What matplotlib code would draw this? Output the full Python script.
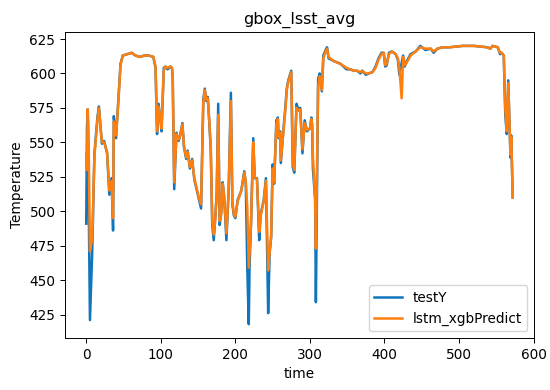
import matplotlib
matplotlib.use("Agg")
import matplotlib.pyplot as plt

# readings taken off the reference chart (time step, temperature)
test_t = [0, 1, 2, 5, 8, 11, 15, 17, 21, 24, 28, 31, 34, 36, 37, 40, 42, 46, 49, 55,
          61, 66, 72, 78, 84, 90, 93, 95, 97, 100, 101, 104, 106, 109, 113, 115, 116, 118, 121, 124,
          126, 129, 131, 134, 136, 139, 142, 145, 148, 151, 154, 157, 159, 161, 163, 165, 167, 169, 171, 173,
          175, 177, 179, 181, 183, 185, 188, 191, 194, 196, 198, 200, 203, 208, 212, 214, 216, 218, 219, 221,
          224, 226, 229, 232, 234, 238, 241, 244, 246, 248, 250, 252, 255, 257, 258, 260, 261, 264, 267, 269,
          271, 275, 277, 279, 282, 285, 287, 290, 293, 296, 300, 302, 303, 304, 307, 308, 311, 313, 316, 318,
          321, 323, 325, 332, 341, 349, 354, 359, 363, 368, 370, 375, 379, 384, 388, 392, 396, 399, 401, 403,
          406, 410, 415, 418, 420, 422, 425, 427, 430, 435, 442, 448, 455, 462, 466, 471, 478, 487, 505, 520,
          538, 542, 545, 552, 555, 557, 560, 562, 564, 566, 568, 569, 570, 572]
test_y = [491, 560, 574, 421, 470, 542, 568, 576, 549, 551, 542, 512, 524, 486, 569, 553, 571, 607, 613, 614,
          615, 613, 612, 613, 613, 612, 604, 556, 578, 564, 558, 604, 605, 603, 605, 604, 596, 516, 557, 551,
          555, 564, 547, 538, 544, 531, 538, 523, 516, 509, 502, 581, 589, 580, 583, 565, 545, 490, 479, 495,
          513, 578, 490, 499, 521, 510, 479, 515, 586, 505, 497, 495, 508, 515, 529, 520, 459, 418, 459, 491,
          553, 524, 524, 479, 498, 508, 524, 426, 470, 481, 534, 520, 566, 568, 553, 558, 535, 556, 575, 589,
          595, 602, 532, 528, 578, 573, 575, 542, 566, 558, 560, 568, 562, 531, 509, 434, 596, 600, 587, 613,
          617, 619, 611, 609, 607, 603, 603, 602, 602, 600, 602, 599, 600, 601, 605, 611, 615, 615, 605, 606,
          615, 616, 614, 610, 599, 605, 613, 605, 609, 614, 616, 620, 617, 618, 615, 618, 619, 619, 620, 620,
          619, 618, 620, 619, 614, 615, 613, 570, 556, 595, 556, 539, 555, 510]

pred_t = [0, 1, 2, 3, 5, 8, 11, 15, 17, 21, 24, 28, 31, 34, 36, 37, 40, 42, 46, 49,
          55, 61, 66, 72, 78, 84, 90, 93, 95, 97, 100, 101, 104, 106, 109, 113, 115, 116, 118, 121,
          124, 126, 129, 131, 134, 136, 139, 142, 145, 148, 151, 154, 157, 159, 161, 163, 165, 167, 169, 171,
          173, 175, 177, 179, 181, 183, 185, 188, 191, 194, 196, 198, 200, 203, 208, 212, 214, 216, 218, 219,
          221, 224, 226, 229, 232, 234, 238, 241, 244, 246, 248, 250, 252, 255, 257, 258, 260, 261, 264, 267,
          269, 271, 275, 277, 279, 282, 285, 287, 290, 293, 296, 300, 302, 303, 304, 307, 308, 311, 313, 316,
          318, 321, 323, 325, 332, 341, 349, 354, 359, 363, 368, 370, 375, 379, 384, 388, 392, 396, 399, 401,
          403, 406, 410, 415, 418, 420, 423, 425, 427, 430, 435, 442, 448, 455, 462, 466, 471, 478, 487, 505,
          520, 538, 542, 545, 552, 555, 557, 560, 562, 564, 566, 568, 569, 570, 572]
pred_y = [542, 530, 574, 560, 471, 480, 540, 566, 575, 550, 550, 543, 515, 522, 495, 565, 555, 570, 606, 613,
          614, 615, 613, 612, 613, 613, 612, 605, 558, 576, 565, 560, 602, 605, 604, 605, 604, 598, 521, 556,
          552, 555, 563, 548, 539, 543, 532, 537, 524, 517, 510, 505, 579, 588, 581, 582, 566, 547, 493, 483,
          494, 512, 570, 493, 498, 520, 511, 484, 514, 580, 507, 498, 496, 507, 515, 528, 521, 503, 459, 470,
          491, 550, 525, 523, 485, 497, 507, 522, 457, 470, 482, 531, 521, 563, 567, 554, 557, 537, 555, 573,
          588, 594, 601, 535, 530, 575, 573, 574, 545, 564, 559, 560, 567, 562, 540, 509, 473, 590, 598, 588,
          611, 616, 618, 612, 609, 607, 604, 603, 602, 602, 601, 602, 600, 600, 601, 604, 610, 614, 615, 606,
          607, 614, 616, 614, 611, 604, 582, 612, 606, 608, 613, 616, 619, 618, 618, 616, 618, 619, 619, 620,
          620, 619, 618, 620, 619, 615, 615, 613, 575, 558, 593, 558, 541, 554, 510]

fig = plt.figure(figsize=(5.5, 3.9), dpi=100)
ax = fig.add_axes([0.118, 0.133, 0.853, 0.785])

ax.plot(test_t, test_y, color="#0f75bc", lw=1.8, label="testY")
ax.plot(pred_t, pred_y, color="#ff7f0e", lw=1.8, label="lstm_xgbPredict")

fs = 9.8
ax.set_title("gbox_lsst_avg", fontsize=11.5)
ax.set_xlabel("time", fontsize=fs)
ax.set_ylabel("Temperature", fontsize=fs)
ax.set_xticks([0, 100, 200, 300, 400, 500, 600])
ax.set_yticks([425, 450, 475, 500, 525, 550, 575, 600, 625])
ax.tick_params(labelsize=fs, length=3.3, width=0.7)
for sp in ax.spines.values():
    sp.set_linewidth(0.7)
ax.legend(loc="lower right", fontsize=fs)

fig.savefig("out.png", dpi=100)
